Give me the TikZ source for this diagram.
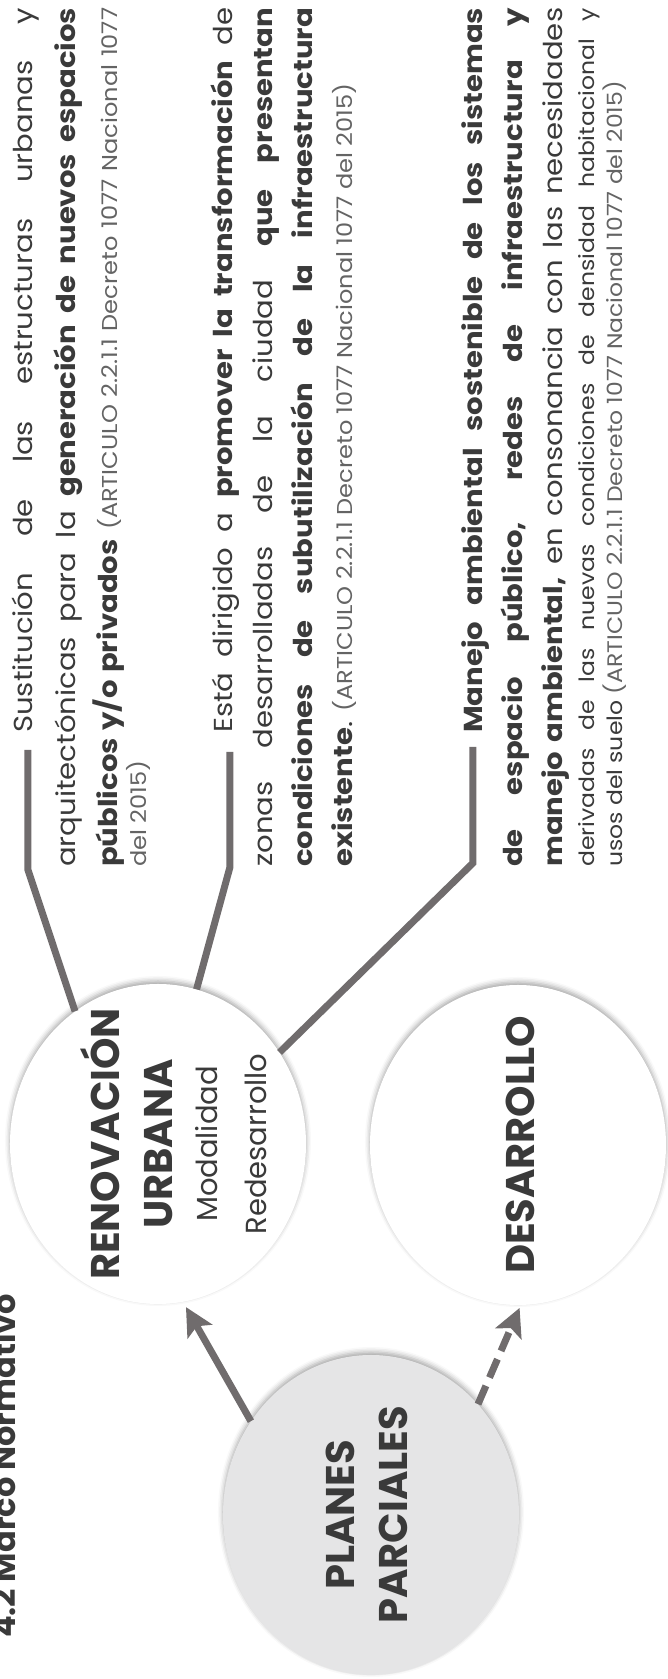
\documentclass[tikz,border=0pt]{standalone}
\usepackage{fontspec}
\setmainfont{Poppins}[FakeStretch=1.12]
\newfontfamily\rotulofont{Poppins}
\usetikzlibrary{arrows.meta}
\usetikzlibrary{shapes.geometric}
\usetikzlibrary{shadows.blur}

\definecolor{tinta}{RGB}{58,58,58}
\definecolor{gris}{RGB}{100,100,100}
\definecolor{linea}{RGB}{112,108,109}
\definecolor{fondo}{RGB}{229,229,230}

\hyphenpenalty=10000
\newcommand{\cita}[1]{{\fontsize{21.5}{24}\selectfont\color{gris}#1}}

\tikzset{
    circulo/.style={ellipse, minimum width=320pt, minimum height=296pt, inner sep=0pt, fill=white,
        blur shadow={shadow xshift=0pt, shadow yshift=3pt, shadow blur radius=5pt, shadow opacity=35}},
    rotulo/.style={anchor=base, inner sep=0pt, text=tinta, font=\rotulofont\fontsize{40}{48}\selectfont\bfseries},
    subrotulo/.style={anchor=base, inner sep=0pt, text=tinta, font=\rotulofont\fontsize{29}{34}\selectfont},
    parrafo/.style={anchor=base west, inner sep=0pt, text width=859pt, align=justify, text=tinta},
    conector/.style={draw=linea, line width=7pt},
    flecha/.style={draw=linea, line width=7pt, -{Stealth[length=28pt,width=28pt,inset=6pt]}},
}

\begin{document}
\begin{tikzpicture}[x=1pt, y=1pt, rotate=90, transform shape]
    \useasboundingbox (0,0) rectangle (1679,668);

    \node[anchor=base west, inner sep=0pt, text=tinta, font=\rotulofont\fontsize{32}{38}\selectfont\bfseries] (titulo) at (41,652) {4.2 Marco Normativo};

    % circulos
    \node[circulo, fill=fondo] (planes) at (164,297) {};
    \node[circulo] (renov) at (535,510) {};
    \node[circulo] (desarr) at (534,150) {};

    \node[rotulo] (planes1) at (164,313) {PLANES};
    \node[rotulo] (planes2) at (164,260) {PARCIALES};
    \node[rotulo] (renov1) at (535,548) {RENOVACIÓN};
    \node[rotulo] (renov2) at (535,495) {URBANA};
    \node[subrotulo] (renov3) at (535,450) {Modalidad};
    \node[subrotulo] (renov4) at (535,401) {Redesarrollo};
    \node[rotulo] (desarr1) at (534,133) {DESARROLLO};

    \draw[flecha, shorten >=6pt] (planes.52) -- (renov.189);
    \draw[flecha, dash pattern=on 20pt off 9pt, shorten >=3pt] (planes.-44) -- (desarr.181);

    % textos
    \node[parrafo, font=\fontsize{26}{42.5}\selectfont] (texto1) at (812,635) {\noindent\hspace*{134pt}Sustitución de las estructuras urbanas y\linebreak
        arquitectónicas para la \textbf{generación de nuevos espacios}\linebreak
        \textbf{públicos y/o privados} \cita{(ARTICULO 2.2.1.1 Decreto 1077 Nacional 1077}\vadjust{\kern-13.5pt}\linebreak
        \cita{del 2015)}};
    \node[parrafo, font=\fontsize{26}{40}\selectfont] (texto2) at (812,435) {\noindent\hspace*{134pt}Está dirigido a \textbf{promover la transformación} de\linebreak
        zonas desarrolladas de la ciudad \textbf{que presentan}\linebreak
        \textbf{condiciones de subutilización de la infraestructura}\linebreak
        \textbf{existente}. \cita{(ARTICULO 2.2.1.1 Decreto 1077 Nacional 1077 del 2015)}};
    \node[parrafo, font=\fontsize{26}{40}\selectfont] (texto3) at (812,185) {\noindent\hspace*{134pt}\textbf{Manejo ambiental sostenible de los sistemas}\linebreak
        \textbf{de espacio público, redes de infraestructura y}\linebreak
        \textbf{manejo ambiental,} en consonancia con las necesidades\vadjust{\kern-8pt}\linebreak
        {\fontsize{21}{25}\selectfont derivadas de las nuevas condiciones de densidad habitacional y\vadjust{\kern-12pt}\linebreak
        usos del suelo {\color{gris}(ARTICULO 2.2.1.1 Decreto 1077 Nacional 1077 del 2015)}}};

    % conectores
    \coordinate (c1a) at (809,640);
    \coordinate (c1) at (929,640);
    \coordinate (c2a) at (812,438);
    \coordinate (c2) at (927,438);
    \coordinate (c3a) at (816,195);
    \coordinate (c3) at (932,195);
    \draw[conector] (renov.32) -- (c1a) -- (c1);
    \draw[conector] (renov.-14) -- (c2a) -- (c2);
    \draw[conector] (renov.-53.5) -- (c3a) -- (c3);
\end{tikzpicture}
\end{document}
